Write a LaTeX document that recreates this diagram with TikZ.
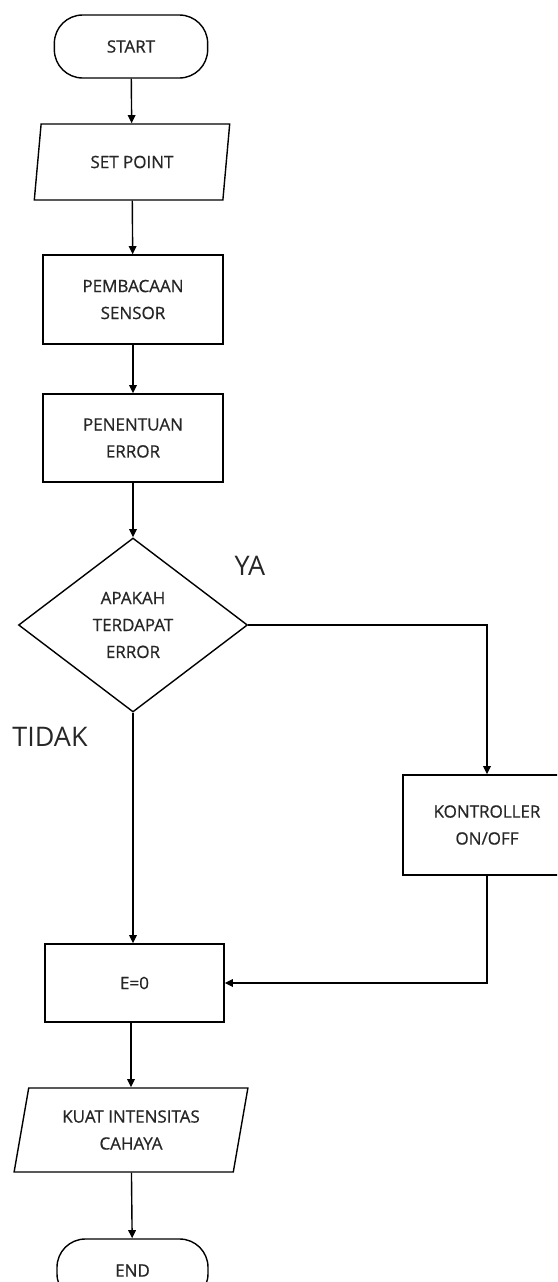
\documentclass[tikz,border=0pt]{standalone}
\usepackage{fontspec}
\setmainfont{Open Sans}
\newfontfamily\boxfont[FakeBold=0.7]{Open Sans}
\usepackage{xcolor}
\usetikzlibrary{shapes.geometric,arrows.meta,positioning}
\definecolor{FT}{HTML}{262626}

\begin{document}
\begin{tikzpicture}[x=0.03cm, y=-0.03cm,
    line width=1.2pt,
    flow/.style={-{Triangle[length=7pt,width=6.5pt]}},
    box/.style={draw, rectangle, align=center, inner sep=0pt,
                text=FT, font=\boxfont\fontsize{14.5}{23}\selectfont},
    terminal/.style={box, rounded corners=0.85cm,
                     minimum width=4.6cm, minimum height=1.89cm},
    inout/.style={box, trapezium, trapezium left angle=76,
                  trapezium right angle=104, trapezium stretches=true},
    decision/.style={box, diamond, minimum width=6.87cm,
                     minimum height=5.22cm},
    answer/.style={font=\fontsize{23}{23}\selectfont, text=black!85}]

    %% page frame
    \clip (0,0) rectangle (557,1282);

    %% main column
    \node[terminal] (start) at (131,46.5) {START};
    \node[inout, minimum width=5.88cm, minimum height=2.28cm]
      (setpoint) at (132,162) {SET POINT};
    \node[box, minimum width=5.4cm, minimum height=2.67cm]
      (baca) at (133,299.5) {PEMBACAAN\\SENSOR};
    \node[box, minimum width=5.4cm, minimum height=2.64cm]
      (tentu) at (133,438) {PENENTUAN\\ERROR};
    \node[decision] (cek) at (133,625) {APAKAH\\TERDAPAT\\ERROR};
    \node[box, minimum width=5.37cm, minimum height=2.34cm]
      (nol) at (134.5,983) {E=0};
    \node[inout, minimum width=7.02cm, minimum height=2.52cm]
      (kuat) at (131,1130) {KUAT INTENSITAS\\CAHAYA};
    \node[terminal, minimum width=4.53cm] (end) at (132.5,1270.5) {END};

    %% right branch
    \node[box, minimum width=5.04cm, minimum height=3cm]
      (kontrol) at (487,825) {KONTROLLER\\ON/OFF};

    %% labels
    \node[answer] (ya) at (250,566) {YA};
    \node[answer] (tidak) at (50,737) {TIDAK};

    %% connectors
    \draw[flow] (start) -- (setpoint);
    \draw[flow] (setpoint) -- (baca);
    \draw[flow] (baca) -- (tentu);
    \draw[flow] (tentu) -- (cek);
    \draw[flow] (cek.east) -| (kontrol.north);
    \draw[flow] (cek.south) -- (nol.north -| cek.south);
    \draw[flow] (kontrol.south) |- (nol.east);
    \draw[flow] (nol.south -| kuat.north) -- (kuat.north);
    \draw[flow] (kuat) -- (end);

\end{tikzpicture}
\end{document}
